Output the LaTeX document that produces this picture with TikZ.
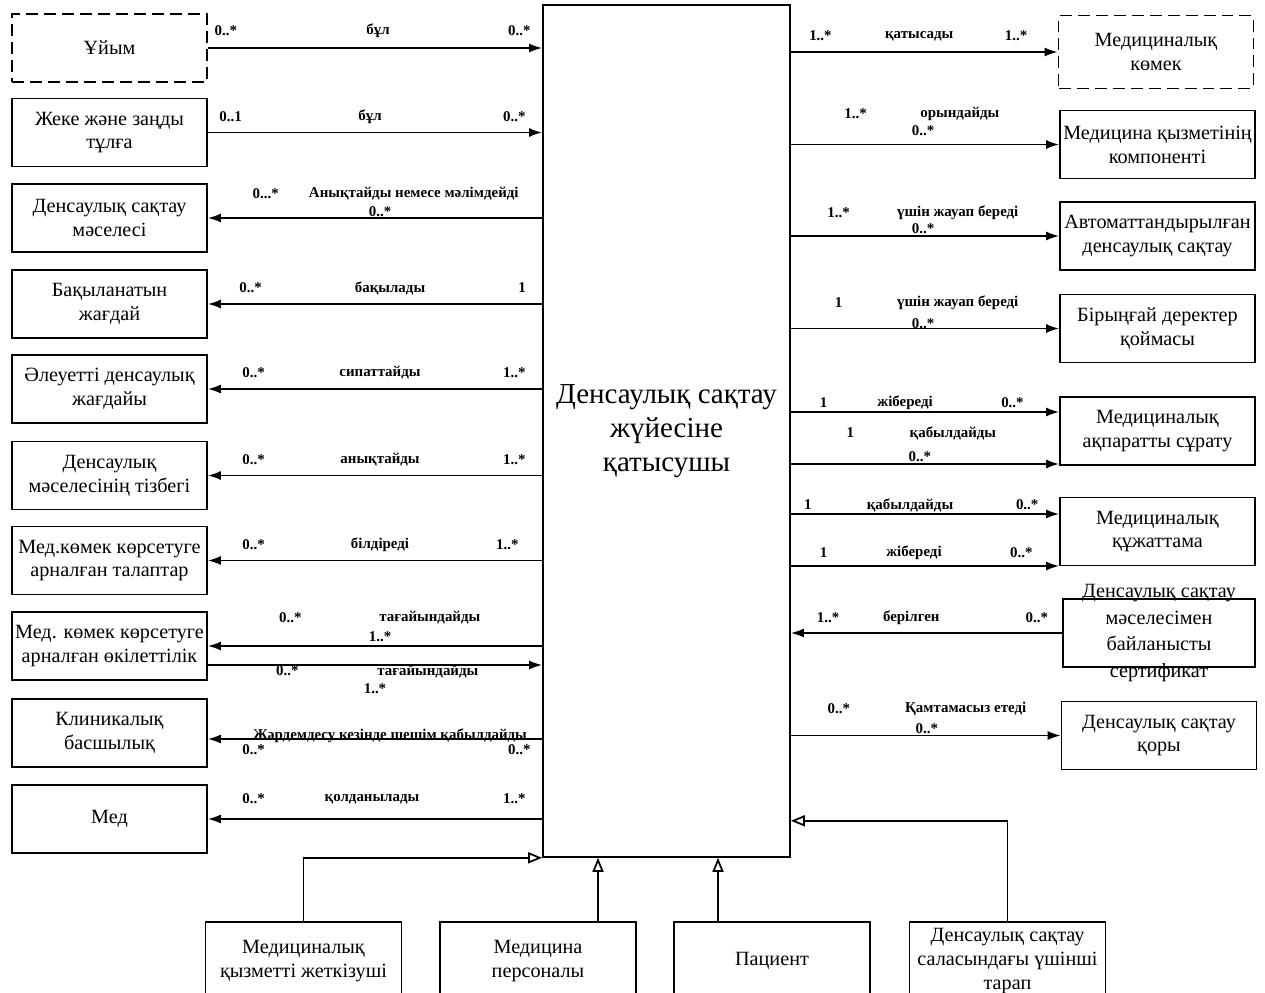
\documentclass[tikz,border=0pt]{standalone}
\usepackage{fontspec}
\setmainfont{Liberation Serif}
\usetikzlibrary{arrows.meta,positioning,calc}
\tikzset{
  box/.style={draw, minimum width=3.9cm, minimum height=1.36cm, inner xsep=0pt, align=center, font=\fontsize{11.5}{13.6}\selectfont},
  dbox/.style={box, dash pattern=on 2.4mm off 1.2mm},
  lbl/.style={font=\fontsize{8.5}{10}\selectfont\bfseries, inner sep=0pt},
  gen/.style={-{Triangle[open,length=2.8mm,width=2.2mm]}},
  >={Latex[length=2.6mm,width=1.8mm]}
}

\begin{document}
\begin{tikzpicture}[x=0.02cm, y=-0.02cm, line width=1pt]
  \path[use as bounding box, fill=white] (0,0) rectangle (1265,993);

  \node[draw, minimum width=4.94cm, minimum height=17.04cm, align=center, font=\fontsize{16.5}{19.5}\selectfont] (qatysushy) at (666.5,431) {Денсаулық сақтау\\жүйесіне\\қатысушы};

  % left column
  \node[dbox] (uiym) at (109.5,48) {Ұйым};
  \node[box] (tulga) at (109.5,132.5) {Жеке және заңды\\тұлға};
  \node[box] (maselesi) at (109.5,218) {Денсаулық сақтау\\мәселесі};
  \node[box] (baqylau) at (109.5,304) {Бақыланатын\\жағдай};
  \node[box] (aleuetti) at (109.5,389) {Әлеуетті денсаулық\\жағдайы};
  \node[box] (tizbek) at (109.5,475.5) {Денсаулық\\мәселесінің тізбегі};
  \node[box] (talaptar) at (109.5,560.5) {Мед.көмек көрсетуге\\арналған талаптар};
  \node[box] (okilet) at (109.5,646) {Мед. көмек көрсетуге\\арналған өкілеттілік};
  \node[box] (basshylyq) at (109.5,733) {Клиникалық\\басшылық};
  \node[box] (med) at (109.5,819) {Мед};

  % right column
  \node[dbox, minimum height=1.46cm] (komek) at (1156,52) {Медициналық\\көмек};
  \node[box] (komponent) at (1157.5,144.5) {Медицина қызметінің\\компоненті};
  \node[box] (avtomat) at (1157.5,236) {Автоматтандырылған\\денсаулық сақтау};
  \node[box] (qoima) at (1157.5,328.5) {Бірыңғай деректер\\қоймасы};
  \node[box] (suratu) at (1157.5,431) {Медициналық\\ақпаратты сұрату};
  \node[box] (qujat) at (1157.5,531.5) {Медициналық\\құжаттама};
  \node[box, minimum width=3.84cm, minimum height=1.36cm] (sertifikat) at (1159,633) {};
  \node[align=center, font=\fontsize{11.5}{15.3}\selectfont] (sertifikattxt) at (sertifikat.center) {Денсаулық сақтау\\мәселесімен\\байланысты\\сертификат};
  \node[box] (qor) at (1159,735.5) {Денсаулық сақтау\\қоры};

  % bottom row
  \node[box, minimum width=3.92cm, minimum height=1.56cm] (jetkizushi) at (303.5,961) {Медициналық\\қызметті жеткізуші};
  \node[box, minimum width=3.92cm, minimum height=1.56cm] (personal) at (538,961) {Медицина\\персоналы};
  \node[box, minimum width=3.92cm, minimum height=1.56cm] (patsient) at (772,961) {Пациент};
  \node[box, minimum width=3.92cm, minimum height=1.56cm] (ushinshi) at (1007.5,961) {Денсаулық сақтау\\саласындағы үшінші\\тарап};

  % left associations
  \draw[->] (uiym.east) -- (uiym.east -| qatysushy.west)
    node[lbl, pos=.054, yshift=.34cm] {0..*}
    node[lbl, pos=.509, yshift=.34cm] {бұл}
    node[lbl, pos=.932, yshift=.34cm] {0..*};
  \draw[->] (tulga.east) -- (tulga.east -| qatysushy.west)
    node[lbl, pos=.068, yshift=.32cm] {0..1}
    node[lbl, pos=.485, yshift=.32cm] {бұл}
    node[lbl, pos=.917, yshift=.32cm] {0..*};
  \draw[<-] (maselesi.east) -- (maselesi.east -| qatysushy.west)
    node[lbl, pos=.173, yshift=.48cm] {0...*}
    node[lbl, pos=.616, yshift=.48cm] {Анықтайды немесе мәлімдейді}
    node[lbl, pos=.515, yshift=.12cm] {0..*};
  \draw[<-] (baqylau.east) -- (baqylau.east -| qatysushy.west)
    node[lbl, pos=.128, yshift=.32cm] {0..*}
    node[lbl, pos=.545, yshift=.32cm] {бақылады}
    node[lbl, pos=.94, yshift=.32cm] {1};
  \draw[<-] (aleuetti.east) -- (aleuetti.east -| qatysushy.west)
    node[lbl, pos=.137, yshift=.32cm] {0..*}
    node[lbl, pos=.515, yshift=.32cm] {сипаттайды}
    node[lbl, pos=.917, yshift=.32cm] {1..*};
  \draw[<-] (tizbek.east) -- (tizbek.east -| qatysushy.west)
    node[lbl, pos=.137, yshift=.32cm] {0..*}
    node[lbl, pos=.515, yshift=.32cm] {анықтайды}
    node[lbl, pos=.917, yshift=.32cm] {1..*};
  \draw[<-] (talaptar.east) -- (talaptar.east -| qatysushy.west)
    node[lbl, pos=.137, yshift=.32cm] {0..*}
    node[lbl, pos=.515, yshift=.32cm] {білдіреді}
    node[lbl, pos=.896, yshift=.32cm] {1..*};
  \coordinate (oka) at (okilet.east);
  \coordinate (okb) at ($(okilet.east)+(0,19)$);
  \draw[<-] (oka) -- (oka -| qatysushy.west)
    node[lbl, pos=.247, yshift=.56cm] {0..*}
    node[lbl, pos=.664, yshift=.56cm] {тағайындайды}
    node[lbl, pos=.515, yshift=.18cm] {1..*};
  \draw[->] (okb) -- (okb -| qatysushy.west)
    node[lbl, pos=.238, yshift=-.12cm] {0..*}
    node[lbl, pos=.658, yshift=-.14cm] {тағайындайды}
    node[lbl, pos=.5, yshift=-.48cm] {1..*};
  \coordinate (bas) at ($(basshylyq.east)+(0,6)$);
  \draw[<-] (bas) -- (bas -| qatysushy.west)
    node[lbl, pos=.545, yshift=.06cm] {Жәрдемдесу кезінде шешім қабылдайды}
    node[lbl, pos=.137, yshift=-.22cm] {0..*}
    node[lbl, pos=.932, yshift=-.22cm] {0..*};
  \draw[<-] (med.east) -- (med.east -| qatysushy.west)
    node[lbl, pos=.137, yshift=.4cm] {0..*}
    node[lbl, pos=.491, yshift=.4cm] {қолданылады}
    node[lbl, pos=.917, yshift=.4cm] {1..*};

  % right associations
  \draw[->] (komek.west -| qatysushy.east) -- (komek.west)
    node[lbl, pos=.111, yshift=.32cm] {1..*}
    node[lbl, pos=.481, yshift=.32cm] {қатысады}
    node[lbl, pos=.844, yshift=.32cm] {1..*};
  \draw[->] (komponent.west -| qatysushy.east) -- (komponent.west)
    node[lbl, pos=.241, yshift=.62cm] {1..*}
    node[lbl, pos=.63, yshift=.62cm] {орындайды}
    node[lbl, pos=.493, yshift=.28cm] {0..*};
  \draw[->] (avtomat.west -| qatysushy.east) -- (avtomat.west)
    node[lbl, pos=.178, yshift=.46cm] {1..*}
    node[lbl, pos=.622, yshift=.46cm] {үшін жауап береді}
    node[lbl, pos=.493, yshift=.14cm] {0..*};
  \draw[->] (qoima.west -| qatysushy.east) -- (qoima.west)
    node[lbl, pos=.178, yshift=.52cm] {1}
    node[lbl, pos=.622, yshift=.52cm] {үшін жауап береді}
    node[lbl, pos=.493, yshift=.1cm] {0..*};
  \coordinate (sra) at ($(suratu.west)+(0,-19)$);
  \coordinate (srb) at ($(suratu.west)+(0,33)$);
  \draw[->] (sra -| qatysushy.east) -- (sra)
    node[lbl, pos=.122, yshift=.18cm] {1}
    node[lbl, pos=.426, yshift=.18cm] {жібереді}
    node[lbl, pos=.826, yshift=.18cm] {0..*};
  \draw[->] (srb -| qatysushy.east) -- (srb)
    node[lbl, pos=.222, yshift=.62cm] {1}
    node[lbl, pos=.604, yshift=.62cm] {қабылдайды}
    node[lbl, pos=.481, yshift=.14cm] {0..*};
  \coordinate (qja) at ($(qujat.west)+(0,-17.5)$);
  \coordinate (qjb) at ($(qujat.west)+(0,34.5)$);
  \draw[->] (qja -| qatysushy.east) -- (qja)
    node[lbl, pos=.063, yshift=.18cm] {1}
    node[lbl, pos=.444, yshift=.18cm] {қабылдайды}
    node[lbl, pos=.881, yshift=.18cm] {0..*};
  \draw[->] (qjb -| qatysushy.east) -- (qjb)
    node[lbl, pos=.122, yshift=.26cm] {1}
    node[lbl, pos=.459, yshift=.26cm] {жібереді}
    node[lbl, pos=.859, yshift=.26cm] {0..*};
  \draw[<-] (sertifikat.west -| qatysushy.east) -- (sertifikat.west)
    node[lbl, pos=.137, yshift=.3cm] {1..*}
    node[lbl, pos=.444, yshift=.3cm] {берілген}
    node[lbl, pos=.907, yshift=.3cm] {0..*};
  \draw[->] (qor.west -| qatysushy.east) -- (qor.west)
    node[lbl, pos=.178, yshift=.54cm] {0..*}
    node[lbl, pos=.648, yshift=.54cm] {Қамтамасыз етеді}
    node[lbl, pos=.504, yshift=.14cm] {0..*};

  % generalizations
  \coordinate (pg) at ($(personal.north)+(60,0)$);
  \coordinate (pt) at ($(patsient.north)+(-54,0)$);
  \draw[gen] (jetkizushi.north) |- (qatysushy.south west);
  \draw[gen] (pg) -- (pg |- qatysushy.south);
  \draw[gen] (pt) -- (pt |- qatysushy.south);
  \draw[gen] (ushinshi.north) |- ($(qatysushy.south east)+(0,-37)$);
\end{tikzpicture}
\end{document}
